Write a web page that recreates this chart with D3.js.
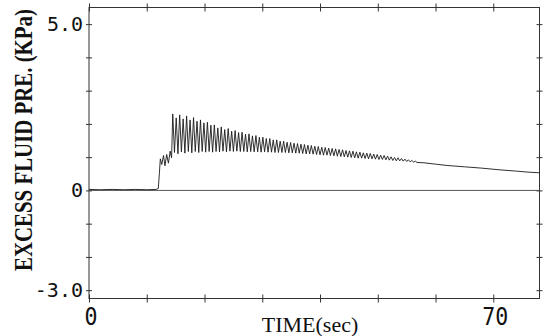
<!DOCTYPE html>
<meta charset="utf-8">
<script src="https://d3js.org/d3.v7.min.js"></script>
<style>
  body { margin: 0; background: #fff; }
  .tick text { display: none; }
  .domain { display: none; }
  .tick line { stroke: #333; }
</style>
<div id="chart"></div>
<script>

// excess fluid pressure record (sec, KPa)
var preRise = [[0, 0.03], [2, 0.02], [4, 0.03], [6, 0.02], [8, 0.03], [10, 0.02], [11.6, 0.03], [12.0, 0.06],
  [12.2, 0.55], [12.35, 0.95], [12.6, 0.78], [12.9, 1.05], [13.15, 0.74], [13.45, 1.08], [13.75, 0.82],
  [14.05, 1.18], [14.3, 0.98]];

var peaks = [[14.5, 2.30], [15.1, 2.18], [15.7, 2.27], [16.3, 2.15], [16.9, 2.24], [17.5, 2.12], [18.1, 2.19],
  [18.7, 2.08], [19.3, 2.12], [19.9, 2.03], [20.5, 2.05], [21.1, 1.96], [21.7, 1.97], [22.3, 1.88], [22.9, 1.91],
  [23.5, 1.83], [24.1, 1.86], [24.7, 1.78], [25.3, 1.80], [25.9, 1.74], [26.5, 1.75], [27.1, 1.69], [27.7, 1.70],
  [28.3, 1.64], [28.9, 1.65], [29.5, 1.60], [30.1, 1.60], [30.7, 1.56], [31.3, 1.56], [31.9, 1.52], [32.5, 1.52],
  [33.1, 1.48], [33.7, 1.48], [34.3, 1.45], [34.9, 1.44], [35.5, 1.42], [36.1, 1.41], [36.7, 1.39], [37.3, 1.38],
  [37.9, 1.36], [38.5, 1.35], [39.1, 1.33], [39.7, 1.32], [40.3, 1.30], [40.9, 1.29], [41.5, 1.27], [42.1, 1.26],
  [42.7, 1.25], [43.3, 1.23], [43.9, 1.22], [44.5, 1.20], [45.1, 1.19], [45.7, 1.18], [46.3, 1.16], [46.9, 1.15],
  [47.5, 1.13], [48.1, 1.12], [48.7, 1.11], [49.3, 1.09], [49.9, 1.08], [50.5, 1.06], [51.1, 1.05], [51.7, 1.03],
  [52.3, 1.01], [52.9, 0.99], [53.5, 0.98], [54.1, 0.96], [54.7, 0.94], [55.3, 0.92], [55.9, 0.90], [56.5, 0.88]];

var troughs = [[14.8, 1.14], [15.4, 1.10], [16.0, 1.16], [16.6, 1.12], [17.2, 1.17], [17.8, 1.13], [18.4, 1.17],
  [19.0, 1.14], [19.6, 1.17], [20.2, 1.15], [20.8, 1.17], [21.4, 1.15], [22.0, 1.17], [22.6, 1.16], [23.2, 1.18],
  [23.8, 1.16], [24.4, 1.18], [25.0, 1.17], [25.6, 1.18], [26.2, 1.17], [26.8, 1.17], [27.4, 1.16], [28.0, 1.17],
  [28.6, 1.16], [29.2, 1.16], [29.8, 1.15], [30.4, 1.16], [31.0, 1.15], [31.6, 1.15], [32.2, 1.14], [32.8, 1.14],
  [33.4, 1.14], [34.0, 1.14], [34.6, 1.13], [35.2, 1.13], [35.8, 1.12], [36.4, 1.12], [37.0, 1.11], [37.6, 1.10],
  [38.2, 1.10], [38.8, 1.09], [39.4, 1.08], [40.0, 1.07], [40.6, 1.06], [41.2, 1.06], [41.8, 1.05], [42.4, 1.04],
  [43.0, 1.03], [43.6, 1.02], [44.2, 1.01], [44.8, 1.00], [45.4, 0.99], [46.0, 0.98], [46.6, 0.97], [47.2, 0.97],
  [47.8, 0.96], [48.4, 0.95], [49.0, 0.95], [49.6, 0.94], [50.2, 0.93], [50.8, 0.93], [51.4, 0.92], [52.0, 0.91],
  [52.6, 0.90], [53.2, 0.89], [53.8, 0.89], [54.4, 0.88], [55.0, 0.87], [55.6, 0.86], [56.2, 0.85], [56.8, 0.84]];

var tail = [[58, 0.83], [60, 0.79], [62, 0.75], [65, 0.71], [68, 0.67], [71, 0.62], [74, 0.58], [76, 0.55], [78, 0.53]];

var yTicks = [-3, -2, -1, 0, 1, 2, 3, 4, 5];
var yLabels = [[5, "5.0"], [0, "0"], [-3, "-3.0"]];
var xTicks = [0, 10, 20, 30, 40, 50, 60, 70];
var xLabels = [[0, "0"], [70, "70"]];

var W = 555, H = 336;
var svg = d3.select("#chart").append("svg")
    .attr("width", W)
    .attr("height", H);

var x = d3.scaleLinear().domain([0, 78]).range([89, 539.5]);
var y = d3.scaleLinear().domain([-3.25, 5.5]).range([298.5, 7.5]);

// merge peaks and troughs back into time order
var series = preRise.concat(peaks, troughs).sort(function(a, b) { return a[0] - b[0]; }).concat(tail);

// frame
svg.append("rect")
    .attr("x", x.range()[0]).attr("y", y.range()[1])
    .attr("width", x.range()[1] - x.range()[0])
    .attr("height", y.range()[0] - y.range()[1])
    .attr("fill", "none")
    .attr("stroke", "#333")
    .attr("stroke-width", 1);

// cross ticks on all four sides
function crossAxis(axisA, axisB, tx, ty) {
  var g = svg.append("g").attr("transform", "translate(" + tx + "," + ty + ")");
  g.append("g").call(axisA);
  g.append("g").call(axisB);
}
crossAxis(d3.axisLeft(y).tickValues(yTicks).tickSize(3),
          d3.axisRight(y).tickValues(yTicks).tickSize(3), x.range()[0], 0);
crossAxis(d3.axisLeft(y).tickValues(yTicks).tickSize(3),
          d3.axisRight(y).tickValues(yTicks).tickSize(3), x.range()[1], 0);
crossAxis(d3.axisBottom(x).tickValues(xTicks).tickSize(4),
          d3.axisTop(x).tickValues(xTicks).tickSize(4), 0, y.range()[0]);
crossAxis(d3.axisBottom(x).tickValues(xTicks).tickSize(4),
          d3.axisTop(x).tickValues(xTicks).tickSize(4), 0, y.range()[1]);

// zero line
svg.append("line")
    .attr("x1", x(0)).attr("x2", x(78))
    .attr("y1", y(0)).attr("y2", y(0))
    .attr("stroke", "#555")
    .attr("stroke-width", 1);

// pressure trace
svg.append("path")
    .datum(series)
    .attr("fill", "none")
    .attr("stroke", "#1a1a1a")
    .attr("stroke-width", 0.9)
    .attr("d", d3.line().x(function(d) { return x(d[0]); }).y(function(d) { return y(d[1]); }));

// tick labels
svg.selectAll(".ylab").data(yLabels).enter().append("text")
    .attr("x", 83)
    .attr("y", function(d) { return y(d[0]) + 7; })
    .attr("text-anchor", "end")
    .style("font-family", "DejaVu Sans Mono, monospace")
    .style("font-size", "20px")
    .attr("fill", "#111")
    .text(function(d) { return d[1]; });

svg.selectAll(".xlab").data(xLabels).enter().append("text")
    .attr("x", function(d) { return x(d[0]) + 2; })
    .attr("y", 325)
    .attr("text-anchor", "middle")
    .attr("textLength", function(d) { return d[1].length * 13; })
    .attr("lengthAdjust", "spacingAndGlyphs")
    .style("font-family", "DejaVu Sans Mono, monospace")
    .style("font-size", "24px")
    .attr("fill", "#111")
    .text(function(d) { return d[1]; });

// axis titles
svg.append("text")
    .attr("x", 310)
    .attr("y", 332)
    .attr("text-anchor", "middle")
    .style("font-family", "Liberation Serif, serif")
    .style("font-size", "22px")
    .attr("fill", "#111")
    .text("TIME(sec)");

// tall, narrow y title: squeeze along its length to fit the frame height
var yTitle = svg.append("text")
    .attr("text-anchor", "middle")
    .style("font-family", "Liberation Serif, serif")
    .style("font-size", "26px")
    .style("font-weight", "bold")
    .attr("fill", "#111")
    .text("EXCESS FLUID PRE. (KPa)");
var squeeze = 262 / yTitle.node().getComputedTextLength();
yTitle.attr("transform", "translate(32,140) rotate(-90) scale(" + squeeze + ",1)");

</script>
